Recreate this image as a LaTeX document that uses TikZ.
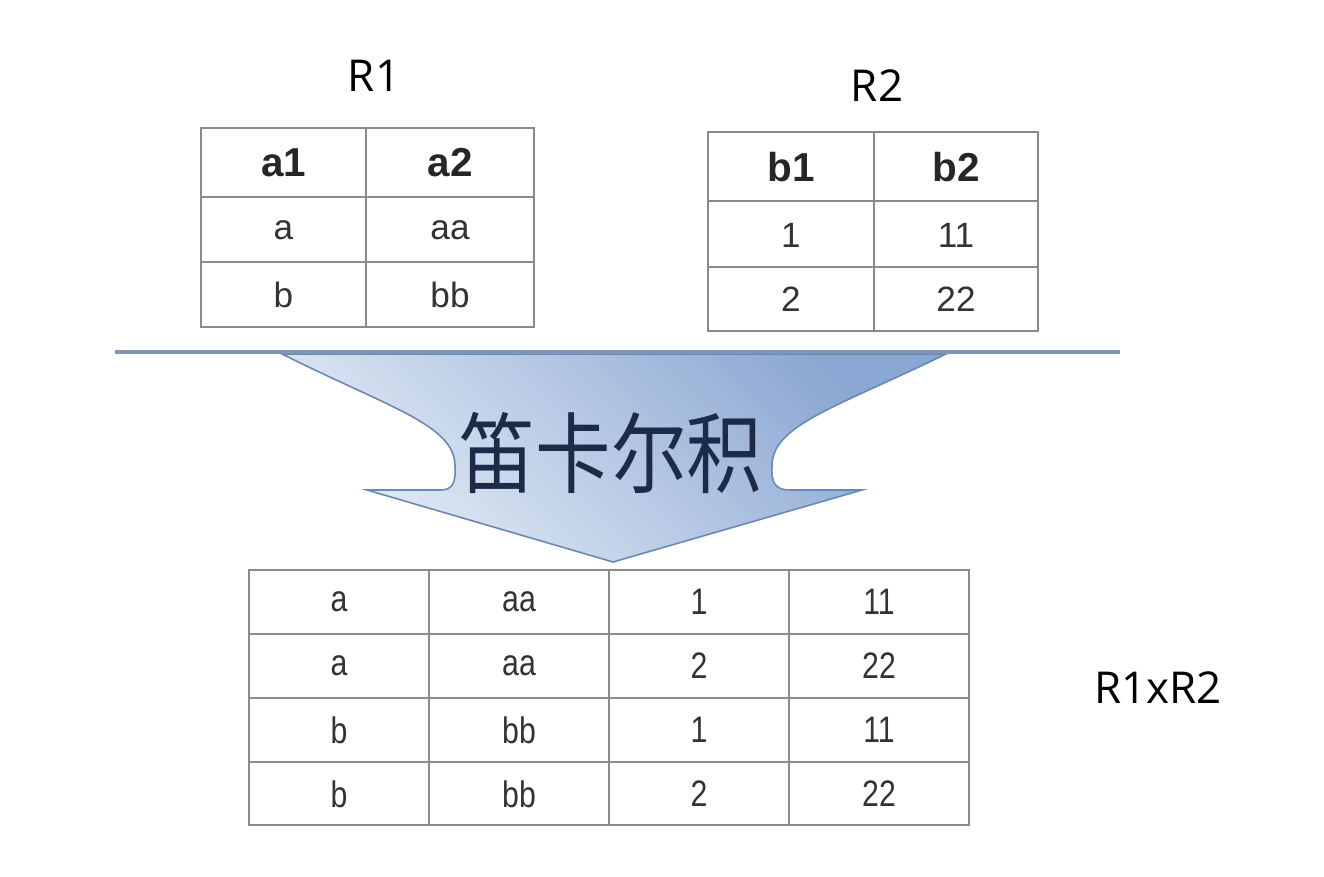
\documentclass[tikz,border=0pt]{standalone}
\usepackage{fontspec}
\setmainfont{Liberation Sans}
\newfontfamily\labelfont{Open Sans}
\newfontfamily\narrowfont[FakeStretch=0.82]{Liberation Sans}
\newfontfamily\cjk[FakeStretch=0.86]{Noto Sans CJK SC}
\definecolor{gridc}{HTML}{8A8A8A}
\definecolor{txtc}{HTML}{333333}
\definecolor{arrowLight}{HTML}{E4ECF6}
\definecolor{arrowDark}{HTML}{8AA6D2}
\definecolor{arrowEdge}{HTML}{6A88B6}
\definecolor{barc}{HTML}{7F95B5}
\definecolor{cjkc}{HTML}{1C2B48}
\tikzset{
  grid/.style={draw=gridc, line width=1.1pt},
  head/.style={font=\fontsize{23}{23}\selectfont\bfseries, text=black!85, anchor=center},
  cell/.style={font=\fontsize{20}{20}\selectfont, text=txtc, anchor=center},
  ncell/.style={font=\narrowfont\fontsize{21}{21}\selectfont, text=txtc, anchor=center},
  lbl/.style={font=\labelfont\fontsize{25}{25}\selectfont, text=black, anchor=center},
}
\begin{document}
\begin{tikzpicture}[x=0.02cm,y=-0.02cm]
\useasboundingbox (0,0) rectangle (1324,876);
% labels
\node[lbl] (lR1) at (374,76) {R1};
\node[lbl] (lR2) at (877,86) {R2};
\node[lbl] (lR12) at (1158,688) {R1xR2};

% R1 table
\draw[grid] (201,128) rectangle (534,327);
\draw[grid] (366,128) -- (366,327);
\draw[grid] (201,197) -- (534,197);
\draw[grid] (201,262) -- (534,262);
\node[head] (r1h1) at (283.5,163) {a1};
\node[head] (r1h2) at (450,163) {a2};
\node[cell] (r1a1) at (283.5,230) {a};
\node[cell] (r1a2) at (450,230) {aa};
\node[cell] (r1b1) at (283.5,295) {b};
\node[cell] (r1b2) at (450,295) {bb};

% R2 table
\draw[grid] (708,132) rectangle (1038,331);
\draw[grid] (874,132) -- (874,331);
\draw[grid] (708,201) -- (1038,201);
\draw[grid] (708,267) -- (1038,267);
\node[head] (r2h1) at (791,167) {b1};
\node[head] (r2h2) at (956,167) {b2};
\node[cell] (r2a1) at (791,235) {1};
\node[cell] (r2a2) at (956,235) {11};
\node[cell] (r2b1) at (791,299) {2};
\node[cell] (r2b2) at (956,299) {22};

% arrow
\shade[top color=arrowLight, bottom color=arrowDark, shading angle=135, draw=arrowEdge, line width=0.9pt]
  (282,354) .. controls (390,408) and (455,425) .. (455,466)
  .. controls (456,484) and (452,490) .. (440,490)
  -- (367,490) -- (613,562) -- (862,490) -- (790,490)
  .. controls (776,490) and (771,484) .. (772,466)
  .. controls (772,425) and (835,408) .. (946,354) -- cycle;
\draw[barc, line width=2.4pt] (115,352) -- (1120,352);
\node[font=\cjk\fontsize{50}{50}\selectfont, text=cjkc, anchor=center] (cp) at (611,453) {笛卡尔积};

% result table
\draw[grid] (249,570) rectangle (969,825);
\foreach \x in {429,609,789} \draw[grid] (\x,570) -- (\x,825);
\foreach \y in {634,698,762} \draw[grid] (249,\y) -- (969,\y);
\foreach \r/\y/\c/\cc/\d/\dd in {1/602/a/aa/1/11, 2/666/a/aa/2/22, 3/730/b/bb/1/11, 4/794/b/bb/2/22}{
  \node[ncell] (t\r a) at (339,\y) {\c};
  \node[ncell] (t\r b) at (519,\y) {\cc};
  \node[ncell] (t\r c) at (699,\y) {\d};
  \node[ncell] (t\r d) at (879,\y) {\dd};
}
\end{tikzpicture}
\end{document}
